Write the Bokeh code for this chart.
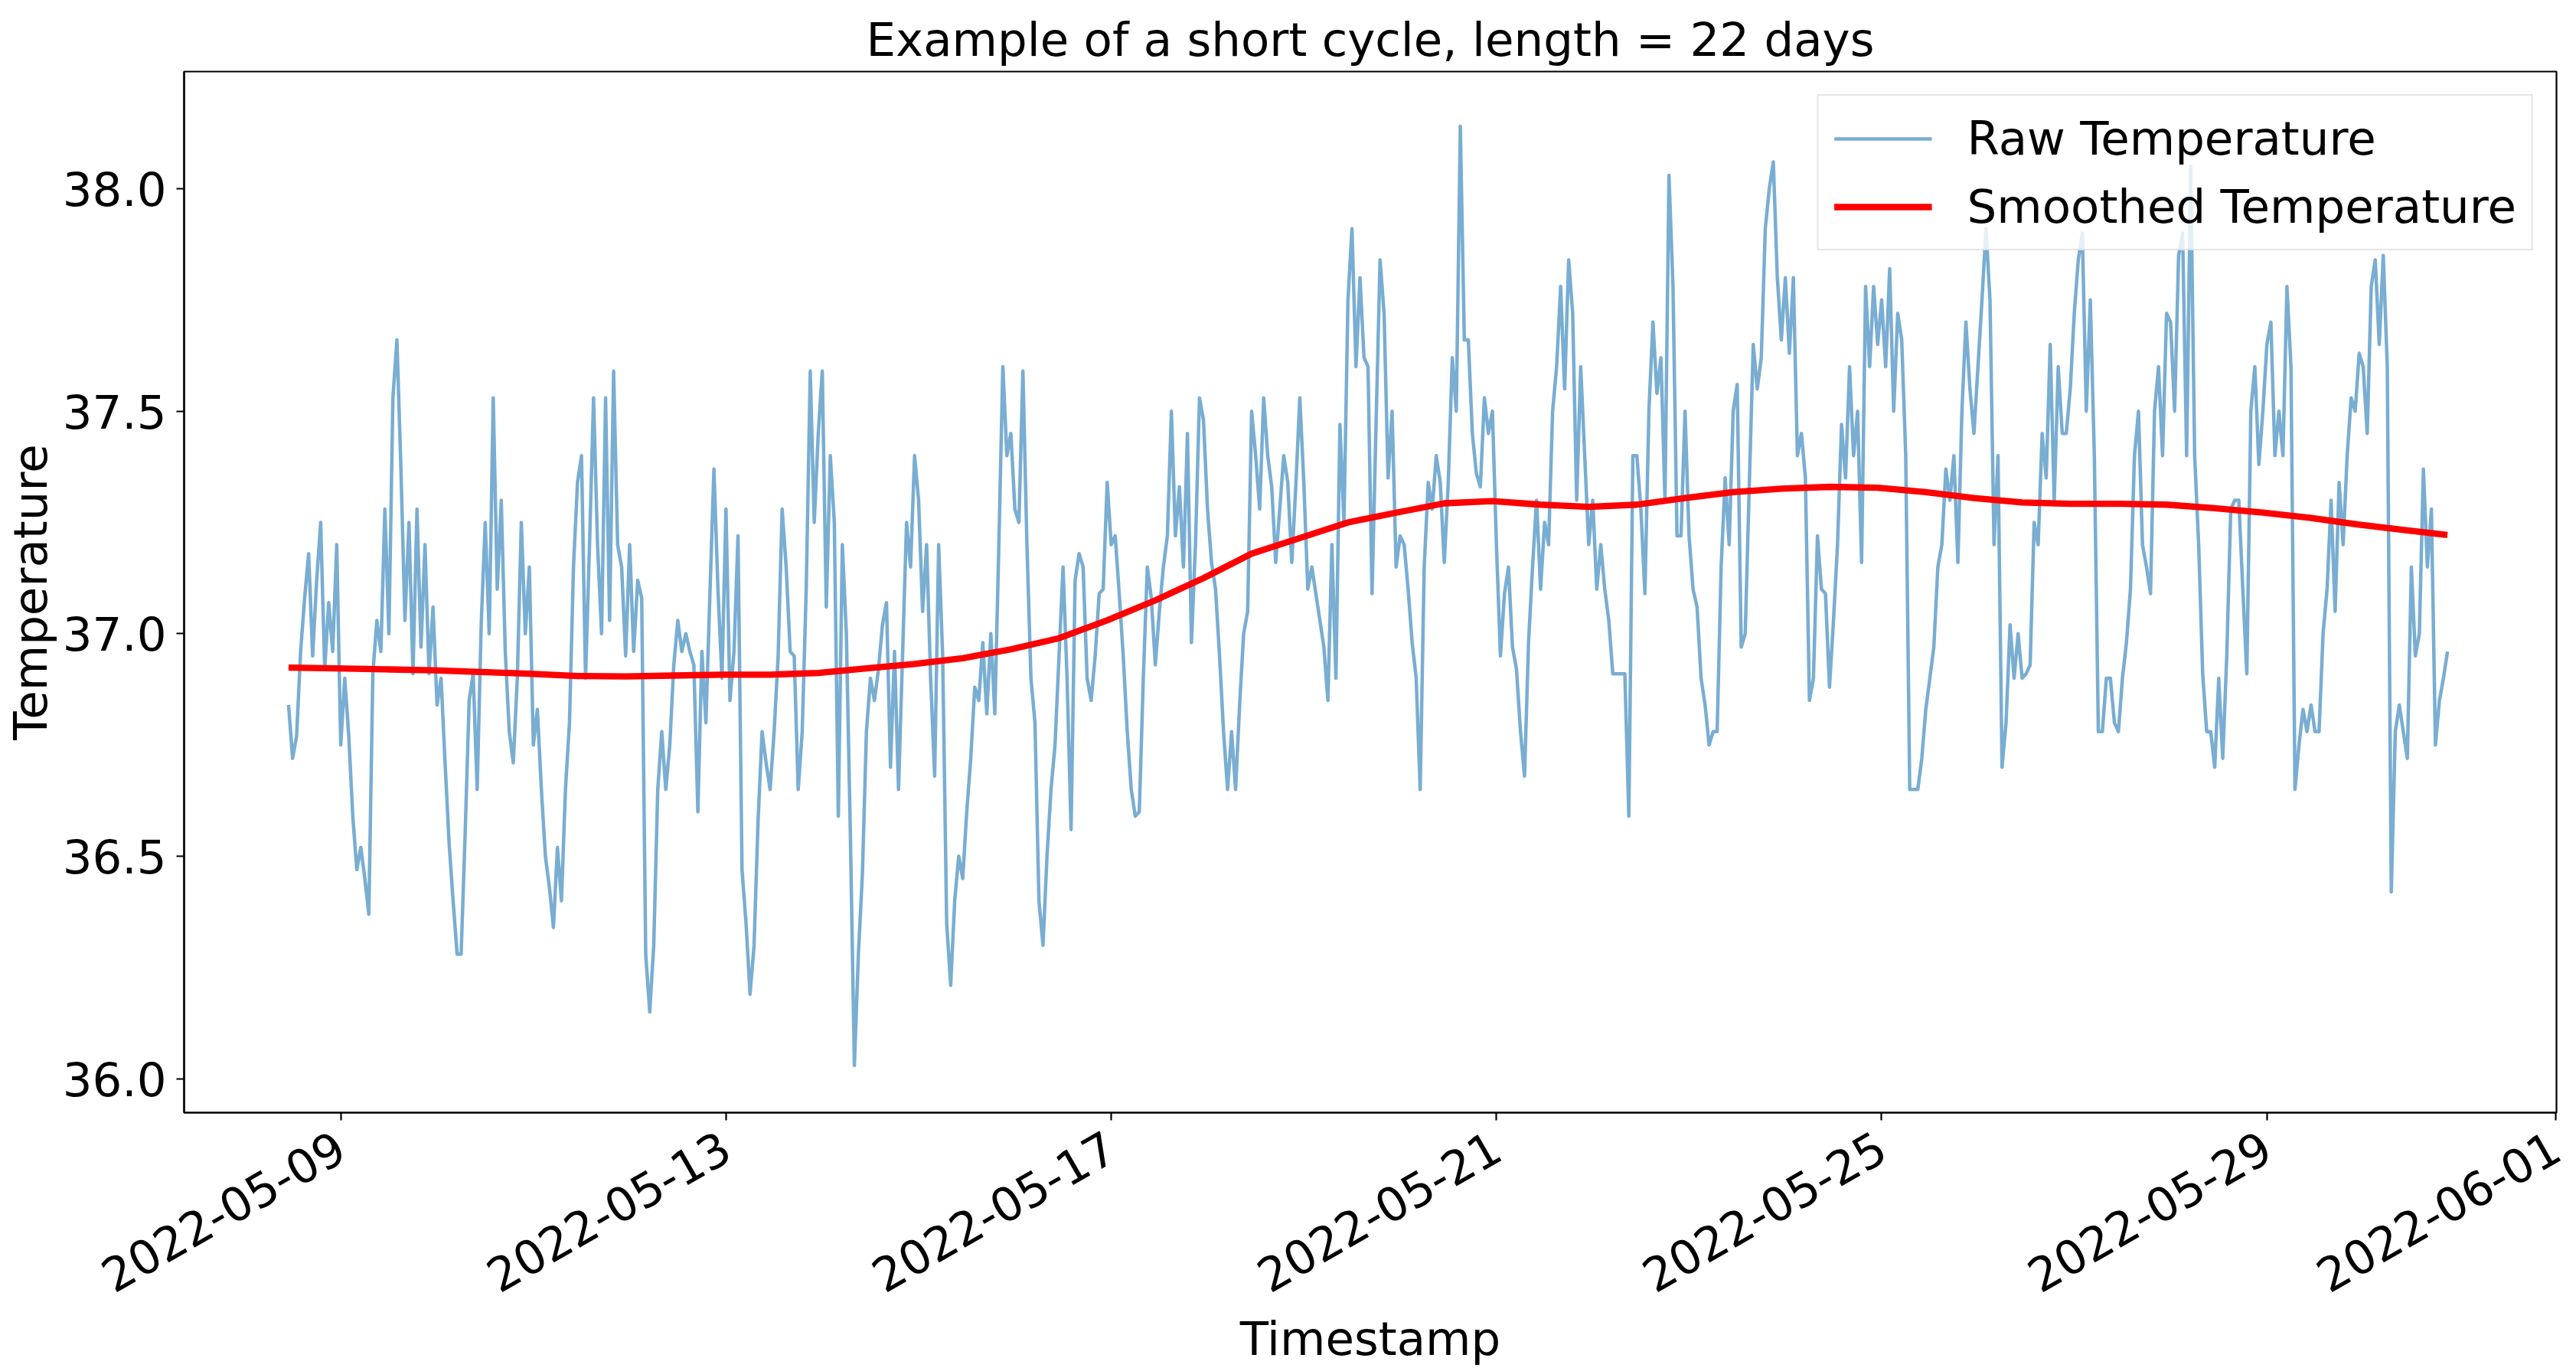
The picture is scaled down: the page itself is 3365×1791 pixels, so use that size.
import math
import numpy as np
import pandas as pd
from bokeh.plotting import figure
from bokeh.models import (Range1d, FixedTicker, DatetimeTickFormatter, PrintfTickFormatter,
                          Legend, LegendItem)
from bokeh.embed import file_html
from bokeh.resources import INLINE

# ---------------- data ----------------
title_text = "Example of a short cycle, length = 22 days"
x_label_text = "Timestamp"
y_label_text = "Temperature"
start_time = "2022-05-08 11:00"          # first raw sample, hourly sampling

raw_temperature = [
    36.84, 36.72, 36.77, 36.96, 37.08, 37.18, 36.95, 37.12, 37.25, 36.92, 37.07, 36.96, 37.20, 36.75, 36.90, 36.77, 36.59, 36.47, 36.52, 36.45, 36.37, 36.91, 37.03, 36.96,
    37.28, 37.00, 37.53, 37.66, 37.37, 37.03, 37.25, 36.91, 37.28, 36.97, 37.20, 36.91, 37.06, 36.84, 36.90, 36.71, 36.53, 36.40, 36.28, 36.28, 36.55, 36.85, 36.91, 36.65,
    37.02, 37.25, 37.00, 37.53, 37.10, 37.30, 36.96, 36.78, 36.71, 36.90, 37.25, 37.00, 37.15, 36.75, 36.83, 36.65, 36.50, 36.43, 36.34, 36.52, 36.40, 36.65, 36.80, 37.15,
    37.34, 37.40, 36.90, 37.20, 37.53, 37.20, 37.00, 37.53, 37.03, 37.59, 37.20, 37.15, 36.95, 37.20, 36.96, 37.12, 37.08, 36.28, 36.15, 36.30, 36.65, 36.78, 36.65, 36.75,
    36.93, 37.03, 36.96, 37.00, 36.96, 36.93, 36.60, 36.96, 36.80, 37.09, 37.37, 37.10, 36.90, 37.28, 36.85, 36.96, 37.22, 36.47, 36.35, 36.19, 36.30, 36.58, 36.78, 36.71,
    36.65, 36.78, 36.95, 37.28, 37.15, 36.96, 36.95, 36.65, 36.78, 37.10, 37.59, 37.25, 37.45, 37.59, 37.06, 37.40, 37.25, 36.59, 37.20, 37.00, 36.55, 36.03, 36.28, 36.46,
    36.78, 36.90, 36.85, 36.92, 37.02, 37.07, 36.70, 36.96, 36.65, 36.95, 37.25, 37.15, 37.40, 37.30, 37.05, 37.20, 36.90, 36.68, 37.20, 36.95, 36.35, 36.21, 36.40, 36.50,
    36.45, 36.60, 36.72, 36.88, 36.85, 36.98, 36.82, 37.00, 36.82, 37.20, 37.60, 37.40, 37.45, 37.28, 37.25, 37.59, 37.20, 36.90, 36.80, 36.40, 36.30, 36.50, 36.65, 36.75,
    36.95, 37.15, 36.90, 36.56, 37.12, 37.18, 37.15, 36.90, 36.85, 36.95, 37.09, 37.10, 37.34, 37.20, 37.22, 37.09, 36.95, 36.78, 36.65, 36.59, 36.60, 36.90, 37.15, 37.08,
    36.93, 37.05, 37.15, 37.22, 37.50, 37.22, 37.33, 37.15, 37.45, 36.98, 37.20, 37.53, 37.48, 37.28, 37.16, 37.10, 36.95, 36.78, 36.65, 36.78, 36.65, 36.84, 37.00, 37.05,
    37.50, 37.40, 37.28, 37.53, 37.40, 37.33, 37.16, 37.28, 37.40, 37.34, 37.16, 37.33, 37.53, 37.34, 37.10, 37.15, 37.09, 37.03, 36.97, 36.85, 37.20, 36.90, 37.47, 37.25,
    37.75, 37.91, 37.60, 37.80, 37.62, 37.60, 37.09, 37.47, 37.84, 37.72, 37.35, 37.50, 37.15, 37.22, 37.20, 37.10, 36.98, 36.90, 36.65, 37.15, 37.34, 37.28, 37.40, 37.34,
    37.16, 37.34, 37.62, 37.50, 38.14, 37.66, 37.66, 37.45, 37.36, 37.33, 37.53, 37.45, 37.50, 37.20, 36.95, 37.09, 37.15, 36.97, 36.92, 36.78, 36.68, 36.98, 37.15, 37.30,
    37.10, 37.25, 37.20, 37.50, 37.60, 37.78, 37.55, 37.84, 37.72, 37.30, 37.60, 37.40, 37.20, 37.30, 37.10, 37.20, 37.10, 37.03, 36.91, 36.91, 36.91, 36.91, 36.59, 37.40,
    37.40, 37.28, 37.09, 37.50, 37.70, 37.54, 37.62, 37.30, 38.03, 37.78, 37.22, 37.22, 37.50, 37.22, 37.10, 37.06, 36.90, 36.84, 36.75, 36.78, 36.78, 37.15, 37.35, 37.20,
    37.50, 37.56, 36.97, 37.00, 37.33, 37.65, 37.55, 37.62, 37.91, 38.00, 38.06, 37.80, 37.66, 37.80, 37.63, 37.80, 37.40, 37.45, 37.35, 36.85, 36.90, 37.22, 37.10, 37.09,
    36.88, 37.03, 37.20, 37.47, 37.35, 37.60, 37.40, 37.50, 37.16, 37.78, 37.60, 37.78, 37.65, 37.75, 37.60, 37.82, 37.50, 37.72, 37.66, 37.40, 36.65, 36.65, 36.65, 36.72,
    36.83, 36.90, 36.97, 37.15, 37.20, 37.37, 37.30, 37.40, 37.16, 37.50, 37.70, 37.55, 37.45, 37.60, 37.75, 37.91, 37.75, 37.20, 37.40, 36.70, 36.80, 37.02, 36.90, 37.00,
    36.90, 36.91, 36.93, 37.25, 37.20, 37.45, 37.35, 37.65, 37.30, 37.60, 37.45, 37.45, 37.55, 37.72, 37.84, 37.90, 37.50, 37.75, 37.40, 36.78, 36.78, 36.90, 36.90, 36.80,
    36.78, 36.90, 36.98, 37.10, 37.40, 37.50, 37.20, 37.15, 37.09, 37.50, 37.60, 37.40, 37.72, 37.70, 37.50, 37.85, 37.90, 37.40, 38.05, 37.40, 37.20, 36.91, 36.78, 36.78,
    36.70, 36.90, 36.72, 36.95, 37.28, 37.30, 37.30, 37.10, 36.91, 37.50, 37.60, 37.38, 37.50, 37.65, 37.70, 37.40, 37.50, 37.40, 37.78, 37.60, 36.65, 36.75, 36.83, 36.78,
    36.84, 36.78, 36.78, 37.00, 37.10, 37.30, 37.05, 37.34, 37.20, 37.40, 37.53, 37.50, 37.63, 37.60, 37.45, 37.78, 37.84, 37.65, 37.85, 37.60, 36.42, 36.78, 36.84, 36.78,
    36.72, 37.15, 36.95, 37.00, 37.37, 37.15, 37.28, 36.75, 36.85, 36.90, 36.96,
]

smooth_hours = list(range(0, 529, 12)) + [538]
smoothed_temperature = [
    36.924, 36.922, 36.920, 36.918, 36.914, 36.910, 36.905, 36.904, 36.906, 36.908,
    36.908, 36.912, 36.922, 36.932, 36.945, 36.965, 36.990, 37.030, 37.075, 37.125,
    37.180, 37.215, 37.250, 37.272, 37.293, 37.298, 37.290, 37.285, 37.290, 37.305,
    37.318, 37.326, 37.330, 37.328, 37.318, 37.305, 37.295, 37.292, 37.292, 37.290,
    37.282, 37.272, 37.260, 37.245, 37.232, 37.222,
]

x_tick_labels = ["2022-05-09", "2022-05-13", "2022-05-17", "2022-05-21",
                 "2022-05-25", "2022-05-29", "2022-06-01"]
y_tick_values = [36.0, 36.5, 37.0, 37.5, 38.0]

# ---------------- derived ----------------
t0 = pd.Timestamp(start_time)
raw_times = t0 + pd.to_timedelta(np.arange(len(raw_temperature)), unit="h")
smooth_times = t0 + pd.to_timedelta(smooth_hours, unit="h")
x_tick_ms = [pd.Timestamp(s).value / 1e6 for s in x_tick_labels]

FONT = "DejaVu Sans"
FS = "61px"
INK = "black"

p = figure(
    x_axis_type="datetime",
    frame_width=3099, frame_height=1360,
    min_border_left=238, min_border_top=93, min_border_right=20, min_border_bottom=322,
    x_range=Range1d(pd.Timestamp("2022-05-07 08:58"), pd.Timestamp("2022-06-01 00:10")),
    y_range=Range1d(35.924, 38.263),
    output_backend="svg", toolbar_location=None,
    title=title_text,
)
p.background_fill_color = "white"
p.border_fill_color = "white"
p.outline_line_color = "black"
p.outline_line_width = 2.2
p.outline_line_alpha = 1.0
p.grid.visible = False

p.title.text_font = FONT
p.title.text_font_size = FS
p.title.text_font_style = "normal"
p.title.text_color = INK
p.title.align = "center"
p.title.standoff = 13

raw_r = p.line(raw_times, raw_temperature, line_color="#1f77b4", line_alpha=0.6,
               line_width=4.5, line_join="round")
sm_r = p.line(smooth_times, smoothed_temperature, line_color="red", line_width=8.3,
              line_join="round")

for ax in (p.xaxis[0], p.yaxis[0]):
    ax.axis_line_width = 2.2
    ax.axis_line_color = "black"
    ax.major_tick_line_width = 2.2
    ax.major_tick_line_color = "black"
    ax.major_tick_out = 10
    ax.major_tick_in = 0
    ax.minor_tick_out = 0
    ax.minor_tick_in = 0
    ax.major_label_text_font = FONT
    ax.major_label_text_font_size = FS
    ax.major_label_text_color = INK
    ax.axis_label_text_font = FONT
    ax.axis_label_text_font_size = FS
    ax.axis_label_text_font_style = "normal"
    ax.axis_label_text_color = INK

p.yaxis.ticker = FixedTicker(ticks=y_tick_values)
p.yaxis.formatter = PrintfTickFormatter(format="%.1f")
p.yaxis.axis_label = y_label_text
p.yaxis.major_label_standoff = 13
p.yaxis.axis_label_standoff = 4

fmt = "%Y-%m-%d"
p.xaxis.ticker = FixedTicker(ticks=x_tick_ms)
p.xaxis.formatter = DatetimeTickFormatter(
    microseconds=fmt, milliseconds=fmt, seconds=fmt, minsec=fmt, minutes=fmt,
    hourmin=fmt, hours=fmt, days=fmt, months=fmt, years=fmt)
p.xaxis.major_label_orientation = math.pi / 6
p.xaxis.axis_label = x_label_text
p.xaxis.major_label_standoff = 30
p.xaxis.axis_label_standoff = 0

legend = Legend(
    items=[LegendItem(label="Raw Temperature", renderers=[raw_r]),
           LegendItem(label="Smoothed Temperature", renderers=[sm_r])],
    location="top_right", margin=30, padding=20, spacing=18,
    glyph_width=128, glyph_height=70, label_height=70, label_standoff=46,
    label_text_font=FONT, label_text_font_size=FS, label_text_color=INK,
    border_line_color="#cccccc", border_line_width=2.5,
    background_fill_color="white", background_fill_alpha=0.8,
)
p.add_layout(legend)

open("out.html", "w").write(file_html(p, INLINE))
